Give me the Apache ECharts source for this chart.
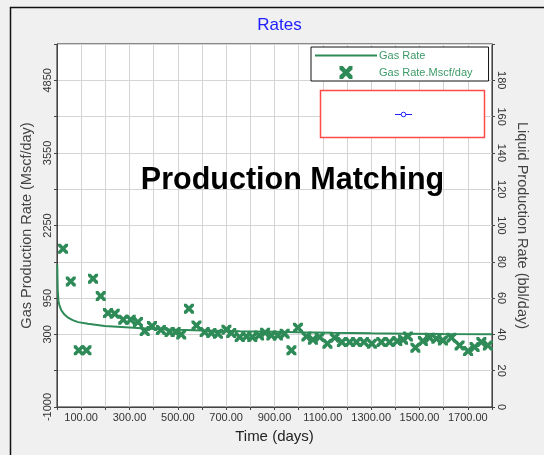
<!DOCTYPE html>
<html>
<head>
<meta charset="utf-8">
<title>Rates</title>
<script src="https://cdn.jsdelivr.net/npm/echarts@6/dist/echarts.min.js"></script>
<style>
  html, body { margin: 0; padding: 0; background: #f0f0f0; }
  #chart { width: 544px; height: 455px; }
</style>
</head>
<body>
<div id="chart"></div>
<script>
// Gas rate model curve: [time (days), rate (Mscf/day)]
const gasRateCurve = [
  [1, 1550], [3, 1100], [6, 900], [10, 820], [18, 730], [30, 660], [46, 599],
  [65, 555], [87, 520], [128, 491], [197, 449], [266, 431], [335, 413],
  [404, 395], [500, 382], [600, 372], [756, 358], [900, 348], [1000, 340],
  [1140, 330], [1300, 320], [1450, 313], [1600, 307], [1800, 302]
];

// Measured gas rate: time (days) and rate (Mscf/day)
const measuredDays = [
  25, 57, 90, 122, 149, 181, 211, 239, 274, 305, 335, 363, 393, 430, 466, 491,
  514, 546, 577, 611, 639, 666, 701, 721, 756, 784, 808, 836, 861, 887, 914, 942,
  970, 997, 1032, 1059, 1087, 1119, 1149, 1179, 1211, 1239, 1270, 1303, 1342, 1376,
  1408, 1432, 1452, 1483, 1514, 1542, 1570, 1597, 1632, 1666, 1701, 1728, 1756, 1783
];
const measuredRates = [
  1834, 1249, 14, 14, 1297, 986, 681, 670, 563, 563, 520, 359, 449, 380, 341, 341,
  300, 760, 461, 341, 323, 312, 384, 323, 252, 264, 252, 282, 330, 282, 282, 312,
  14, 420, 264, 205, 252, 134, 241, 162, 162, 162, 162, 134, 162, 162,
  180, 205, 264, 62, 180, 241, 223, 193, 241, 103, 1, 73, 162, 103
];

// Axis tick labels that are printed
const gasTickLabels = [4850, 3550, 2250, 950, 300, -1000];
const liquidTickLabels = [0, 20, 40, 60, 80, 100, 120, 140, 160, 180];
const timeTickLabels = [100, 300, 500, 700, 900, 1100, 1300, 1500, 1700];

const seriesNames = ['Gas Rate', 'Gas Rate.Mscf/day'];

const GREEN = '#2e8b57';
const X_PATH = 'path://M0,0 L2.6,0 L5,2.6 L7.4,0 L10,0 L10,2.6 L7.4,5 L10,7.4 L10,10 L7.4,10 L5,7.4 L2.6,10 L0,10 L0,7.4 L2.6,5 L0,2.6 Z';

const measured = measuredDays.map((d, i) => [d, measuredRates[i]]);

const chart = echarts.init(document.getElementById('chart'), null, { renderer: 'canvas' });

const tickFont = { fontFamily: 'Liberation Sans Narrow, Liberation Sans, sans-serif', fontSize: 11, color: '#333' };

chart.setOption({
  backgroundColor: '#f0f0f0',
  animation: false,
  title: {
    text: 'Rates',
    left: 274.5,
    textAlign: 'center',
    top: 12,
    textStyle: { fontFamily: 'Liberation Sans, sans-serif', fontSize: 17, fontWeight: 'normal', color: '#2020ff' }
  },
  legend: {
    orient: 'vertical',
    left: 311,
    top: 47,
    padding: [3, 16, 2, 3],
    itemWidth: 62,
    itemHeight: 13,
    itemGap: 5,
    backgroundColor: '#ffffff',
    borderColor: '#111',
    borderWidth: 1,
    borderRadius: 0,
    textStyle: { fontFamily: 'Liberation Sans, sans-serif', fontSize: 11, color: '#3d9a68', padding: [0, 0, 0, -3] },
    data: [
      { name: seriesNames[0], itemStyle: { opacity: 0 } },
      { name: seriesNames[1], icon: X_PATH }
    ]
  },
  grid: {
    left: 57, right: 52, top: 44, bottom: 48,
    show: true, backgroundColor: '#ffffff', borderColor: '#222', borderWidth: 1
  },
  xAxis: {
    type: 'value',
    min: 0, max: 1800, interval: 100,
    name: 'Time (days)',
    nameLocation: 'middle',
    nameGap: 22,
    nameTextStyle: { fontFamily: 'Liberation Sans, sans-serif', fontSize: 15, color: '#222' },
    axisLine: { onZero: false, lineStyle: { color: '#444' } },
    axisTick: { length: 3, lineStyle: { color: '#444' } },
    splitLine: { lineStyle: { color: '#d4d4d4' } },
    axisLabel: Object.assign({}, tickFont, {
      margin: 5,
      formatter: v => timeTickLabels.includes(v) ? v.toFixed(2) : ''
    })
  },
  yAxis: [
    {
      type: 'value',
      min: -1000, max: 5500, interval: 650,
      name: 'Gas Production Rate (Mscf/day)',
      nameLocation: 'middle',
      nameGap: 19,
      nameTextStyle: { fontFamily: 'Liberation Sans, sans-serif', fontSize: 14.5, color: '#444' },
      axisLine: { show: true, onZero: false, lineStyle: { color: '#444' } },
      axisTick: { show: true, length: 3, lineStyle: { color: '#444' } },
      splitLine: { lineStyle: { color: '#d4d4d4' } },
      axisLabel: Object.assign({}, tickFont, {
        rotate: 90,
        margin: 4,
        formatter: v => gasTickLabels.includes(v) ? String(v) : ''
      })
    },
    {
      type: 'value',
      position: 'right',
      min: 0, max: 200, interval: 20,
      name: 'Liquid Production Rate (bbl/day)',
      nameLocation: 'middle',
      nameRotate: -90,
      nameGap: 18,
      nameTextStyle: { fontFamily: 'Liberation Sans, sans-serif', fontSize: 14.5, color: '#444' },
      axisLine: { show: true, onZero: false, lineStyle: { color: '#444' } },
      axisTick: { show: true, length: 3, lineStyle: { color: '#444' } },
      splitLine: { show: false },
      axisLabel: Object.assign({}, tickFont, {
        rotate: -90,
        margin: 4,
        formatter: v => liquidTickLabels.includes(v) ? String(v) : ''
      })
    }
  ],
  series: [
    {
      name: seriesNames[0],
      type: 'line',
      data: gasRateCurve,
      symbol: 'none',
      lineStyle: { color: GREEN, width: 2 },
      itemStyle: { color: GREEN },
      z: 3
    },
    {
      name: seriesNames[1],
      type: 'scatter',
      data: measured,
      symbol: X_PATH,
      symbolSize: 10,
      itemStyle: { color: GREEN, opacity: 1 },
      z: 4
    }
  ],
  graphic: [
    {
      type: 'rect',
      shape: { x: 10.5, y: 7.5, width: 600, height: 500 },
      style: { fill: 'none', stroke: '#111', lineWidth: 1.5 },
      silent: true, z: -1
    },
    {
      type: 'rect',
      shape: { x: 320.5, y: 90.5, width: 164, height: 47 },
      style: { fill: '#ffffff', stroke: '#ff4a4a', lineWidth: 1.5 },
      z: 10
    },
    {
      type: 'line',
      shape: { x1: 395, y1: 114.5, x2: 412, y2: 114.5 },
      style: { stroke: '#2020ff', lineWidth: 1 },
      z: 11
    },
    {
      type: 'circle',
      shape: { cx: 403.5, cy: 114.5, r: 2.3 },
      style: { fill: '#ffffff', stroke: '#2020ff', lineWidth: 1 },
      z: 12
    },
    {
      type: 'text',
      x: 292.5,
      y: 181,
      style: {
        text: 'Production Matching',
        fontFamily: 'Liberation Sans, Arial, sans-serif',
        fontSize: 30.5,
        fontWeight: 'bold',
        fill: '#000',
        align: 'center',
        verticalAlign: 'middle'
      },
      z: 20
    }
  ]
});
</script>
</body>
</html>
